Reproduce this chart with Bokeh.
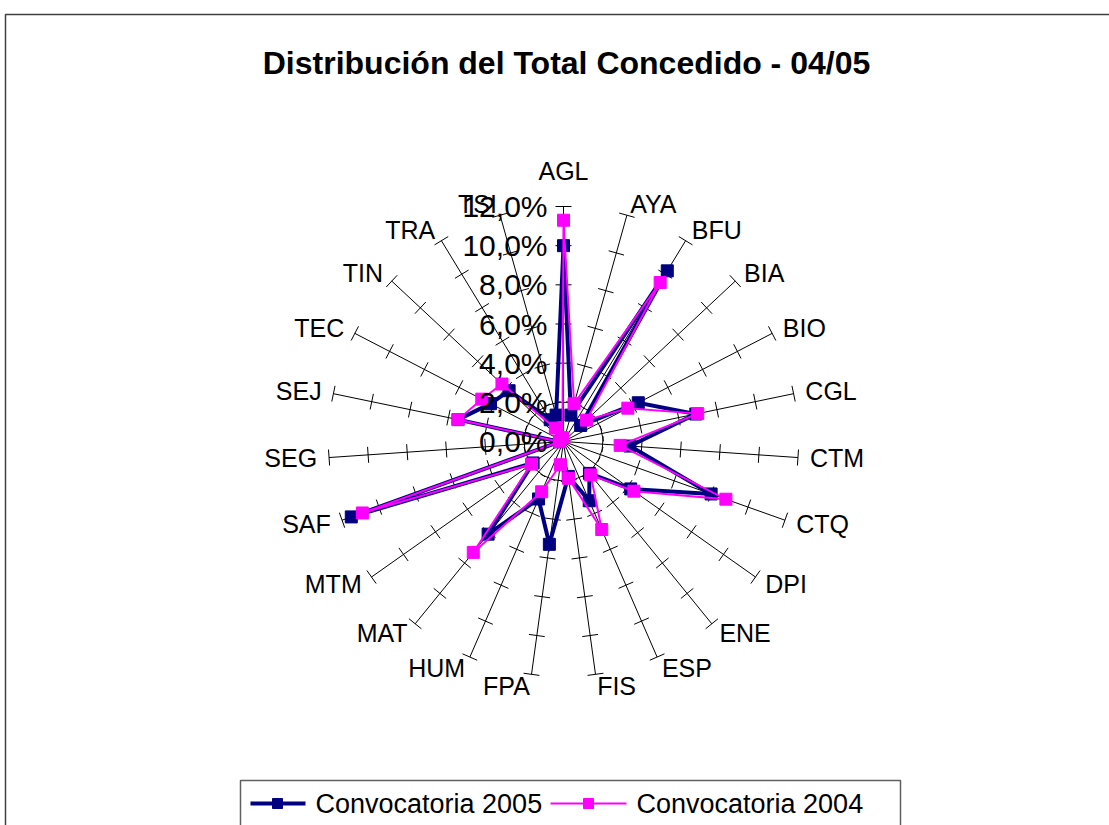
import math
from bokeh.plotting import figure
from bokeh.models import Range1d, ColumnDataSource
from bokeh.core.properties import value, field
from bokeh.embed import file_html
from bokeh.resources import INLINE

# ---------------- data ----------------
categories = ["AGL", "AYA", "BFU", "BIA", "BIO", "CGL", "CTM", "CTQ", "DPI", "ENE",
              "ESP", "FIS", "FPA", "HUM", "MAT", "MTM", "SAF", "SEG", "SEJ", "TEC",
              "TIN", "TRA", "TSI"]
conv_2005 = [10.0, 1.4, 10.2, 1.2, 4.3, 6.9, 3.4, 8.0, 4.2, 2.1,
             3.3, 1.8, 5.3, 3.2, 6.1, 1.9, 11.5, 0.2, 5.5, 4.2,
             3.8, 1.3, 1.4]
conv_2004 = [11.3, 2.0, 9.5, 1.6, 3.7, 7.0, 2.9, 8.8, 4.4, 2.2,
             4.9, 1.9, 1.2, 2.8, 7.3, 2.0, 10.9, 0.2, 5.5, 4.7,
             4.3, 0.8, 0.2]
tick_values = [0, 2, 4, 6, 8, 10, 12]
tick_labels = ["0,0%", "2,0%", "4,0%", "6,0%", "8,0%", "10,0%", "12,0%"]
series_names = ["Convocatoria 2005", "Convocatoria 2004"]
title_text = "Distribución del Total Concedido - 04/05"

# ---------------- layout (page pixels) ----------------
W, H = 1109, 825
CX, CY = 563, 441          # radar centre on the page
R_PX = 235                 # radius of the 12 % ring in px
R_MAX = 12.0
S = R_PX / R_MAX           # px per percent
FONT = "Liberation Sans"


def dx(px):
    return (px - CX) / S


def dy(py):
    return (CY - py) / S


p = figure(width=W, height=H, output_backend="svg", toolbar_location=None,
           x_range=Range1d(dx(0), dx(W)),
           y_range=Range1d(dy(H), dy(0)),
           min_border=0, outline_line_color=None)
p.axis.visible = False
p.grid.visible = False
p.background_fill_color = "white"
p.border_fill_color = "white"

n = len(categories)
angles = [2 * math.pi * i / n for i in range(n)]

# outer chart frame
p.line([dx(5), dx(5), dx(1120)], [dy(840), dy(14), dy(14)],
       line_color="#404040", line_width=1.5)

# spokes
p.segment(x0=[0] * n, y0=[0] * n,
          x1=[R_MAX * math.sin(a) for a in angles],
          y1=[R_MAX * math.cos(a) for a in angles],
          line_color="black", line_width=1)

# tick marks on every spoke
half = 8 / S
tx0, ty0, tx1, ty1 = [], [], [], []
for a in angles:
    for v in tick_values[1:]:
        px_, py_ = v * math.sin(a), v * math.cos(a)
        ux, uy = math.cos(a), -math.sin(a)
        tx0.append(px_ - half * ux); ty0.append(py_ - half * uy)
        tx1.append(px_ + half * ux); ty1.append(py_ + half * uy)
p.segment(x0=tx0, y0=ty0, x1=tx1, y1=ty1, line_color="black", line_width=1)

# series
def draw_series(vals, color, lw):
    xs = [v * math.sin(a) for v, a in zip(vals, angles)]
    ys = [v * math.cos(a) for v, a in zip(vals, angles)]
    p.line(xs + xs[:1], ys + ys[:1], line_color=color, line_width=lw,
           line_join="miter")
    p.scatter(xs, ys, marker="square", size=12, fill_color=color,
              line_color=color)

draw_series(conv_2005, "#000080", 4)
draw_series(conv_2004, "#FF00FF", 2)

# tick labels on the first spoke
p.text(x=[dx(CX - 16)] * len(tick_values), y=tick_values, text=tick_labels,
       text_font=value(FONT), text_font_size=value("30px"),
       text_align="right", text_baseline="middle", text_color="black")

# category labels
lx, ly, la, lb = [], [], [], []
for a in angles:
    sx, sy = math.sin(a), math.cos(a)
    ex, ey = R_MAX * sx, R_MAX * sy
    if abs(sx) < 0.05:
        lx.append(ex); ly.append(ey + 22 / S * sy)
        la.append("center"); lb.append("bottom" if sy > 0 else "top")
    else:
        lx.append(ex + 12 / S * sx); ly.append(ey + 12 / S * sy)
        la.append("left" if sx > 0 else "right"); lb.append("middle")
lsrc = ColumnDataSource(dict(x=lx, y=ly, t=categories, a=la, b=lb))
p.text(x="x", y="y", text="t", source=lsrc, text_align=field("a"),
       text_baseline=field("b"), text_font=value(FONT),
       text_font_size=value("25px"), text_color="black")

# title
p.text(x=[dx(566)], y=[dy(62)], text=[title_text], text_font=value(FONT),
       text_font_size=value("32px"), text_font_style="bold",
       text_align="center", text_baseline="middle", text_color="black")

# legend (drawn by hand, clipped at bottom like the original)
p.quad(left=[dx(240)], right=[dx(900)], top=[dy(780)], bottom=[dy(850)],
       fill_color="white", line_color="#606060", line_width=1.5)
leg_y = dy(803)
for (x0, x1, xm, xt, color, lw, name) in [
        (250, 305, 277, 315, "#000080", 4, series_names[0]),
        (550, 626, 588, 636, "#FF00FF", 2, series_names[1])]:
    p.line([dx(x0), dx(x1)], [leg_y, leg_y], line_color=color, line_width=lw)
    p.scatter([dx(xm)], [leg_y], marker="square", size=10, fill_color=color,
              line_color=color)
    p.text(x=[dx(xt)], y=[leg_y], text=[name], text_font=value(FONT),
           text_font_size=value("27px"), text_align="left",
           text_baseline="middle", text_color="black")

open("out.html", "w").write(file_html(p, INLINE))
